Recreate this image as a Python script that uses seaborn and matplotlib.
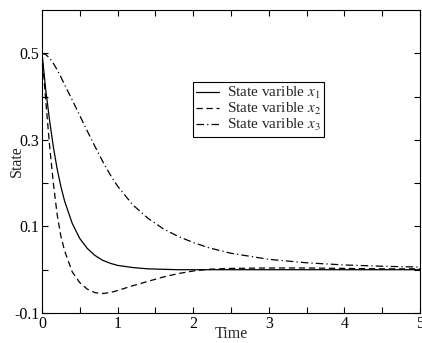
import matplotlib
matplotlib.use("Agg")
import matplotlib.pyplot as plt
import numpy as np
import pandas as pd
import seaborn as sns

# valores
TEMPO = [0, 0.05, 0.1, 0.15, 0.2, 0.25, 0.3, 0.4, 0.5, 0.6, 0.7, 0.8, 0.9,
         1.0, 1.2, 1.4, 1.6, 1.8, 2.0, 2.2, 2.5, 3.0, 3.5, 4.0, 4.5, 5.0]
X1 = [0.5, 0.415, 0.345, 0.284, 0.233, 0.192, 0.158, 0.107, 0.072, 0.049,
      0.033, 0.022, 0.015, 0.010, 0.005, 0.002, 0.001, 0.0, 0.0, 0.0, 0.0,
      0.0, 0.0, 0.0, 0.0, 0.0]
X2 = [0.5, 0.39, 0.287, 0.2, 0.128, 0.077, 0.043, -0.005, -0.03, -0.045,
      -0.053, -0.055, -0.053, -0.048, -0.037, -0.027, -0.017, -0.009,
      -0.003, 0.001, 0.003, 0.004, 0.004, 0.003, 0.002, 0.002]
X3 = [0.5, 0.497, 0.489, 0.477, 0.462, 0.445, 0.427, 0.392, 0.356, 0.320,
      0.285, 0.251, 0.220, 0.193, 0.150, 0.119, 0.095, 0.077, 0.063, 0.051,
      0.038, 0.024, 0.016, 0.011, 0.008, 0.006]
ROTULOS = [r"State varible $x_1$", r"State varible $x_2$",
           r"State varible $x_3$"]
ESTILOS = ["-", (0, (5, 3)), (0, (6, 2.5, 1, 2.5))]

sns.set_style("ticks")
plt.rcParams["font.family"] = ["Liberation Serif", "DejaVu Serif"]
plt.rcParams["mathtext.fontset"] = "stix"
plt.rcParams["font.size"] = 11

fig = plt.figure(figsize=(4.22, 3.43), dpi=100)
ax = fig.add_axes([42 / 422, 30 / 343, 378 / 422, 303 / 343])

for serie, rotulo, estilo in zip([X1, X2, X3], ROTULOS, ESTILOS):
    df = pd.DataFrame({"t": TEMPO, "v": serie})
    sns.lineplot(data=df, x="t", y="v", ax=ax, color="black", lw=0.9,
                 linestyle=estilo, label=rotulo)

ax.set_xlim(0, 5)
ax.set_ylim(-0.1, 0.6)
ax.set_xticks([0, 1, 2, 3, 4, 5])
ax.set_xticks(np.arange(0.5, 5, 1), minor=True)
ax.set_yticks([-0.1, 0.1, 0.3, 0.5])
ax.set_yticklabels(["-0.1", "0.1", "0.3", "0.5"])
ax.set_yticks([0.0, 0.2, 0.4], minor=True)
ax.tick_params(which="both", direction="in", top=True, right=True,
               labelsize=11.5, pad=2, width=0.8, colors="black", length=4)
for s in ax.spines.values():
    s.set_linewidth(0.8)
    s.set_color("black")
ax.set_xlabel("Time", fontsize=11.5, labelpad=-4)
ax.set_ylabel("State", fontsize=11.5, labelpad=-8)

leg = ax.legend(loc="upper left", bbox_to_anchor=(0.40, 0.762),
                frameon=True, fancybox=False, framealpha=1,
                edgecolor="black", handlelength=1.5, handletextpad=0.5,
                labelspacing=0.0, borderpad=0.2, borderaxespad=0,
                fontsize=11)
leg.get_frame().set_linewidth(0.8)

fig.savefig("out.png", dpi=100)
